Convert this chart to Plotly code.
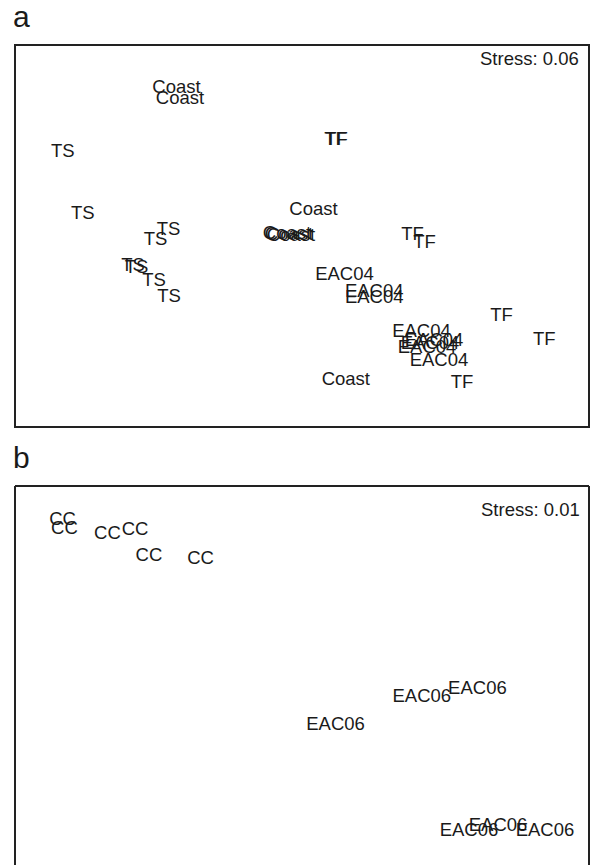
import plotly.graph_objects as go

# ---------------- data (NMDS scores; axes 0-100 units) ----------------
# Panel a
ts_a_x = [8.33, 11.81, 26.74, 24.48, 20.56, 21.17, 24.22, 26.83]
ts_a_y = [71.94, 55.63, 51.57, 48.82, 42.15, 41.62, 38.22, 34.03]
tf_a_x = [55.84, 56.00, 69.25, 71.34, 84.76, 92.20, 77.87]
tf_a_y = [75.13, 75.00, 50.13, 48.17, 28.98, 22.57, 11.52]
coast_a_x = [28.14, 28.75, 52.00, 47.39, 47.74, 48.08, 57.63]
coast_a_y = [88.74, 85.73, 56.81, 50.52, 50.26, 50.00, 12.09]
eac04_x = [57.40, 62.58, 62.58, 70.82, 73.00, 72.30, 71.78, 73.87]
eac04_y = [39.66, 35.16, 33.56, 24.74, 22.38, 21.73, 20.68, 17.15]
stress_a = "Stress: 0.06"

# Panel b
cc_x = [8.28, 8.62, 16.11, 20.91, 23.34, 32.32]
cc_y = [91.10, 88.74, 87.30, 88.48, 81.68, 80.89]
eac06_x = [70.87, 80.56, 55.84, 79.09, 84.15, 92.33]
eac06_y = [44.76, 46.86, 37.43, 9.69, 10.99, 9.69]
stress_b = "Stress: 0.01"

panel_labels = ["a", "b"]

# ---------------- layout constants ----------------
W, H = 591, 865
FONT = "Liberation Sans, Arial, sans-serif"
TXT = "#1a1a1a"
FS = 18.5

box_l, box_r = 15, 589
a_top, a_bot = 45, 427
b_top = 486
b_bot_true = 868  # bottom edge lies just below the visible window
unit_y = (a_bot - a_top) / 100.0

def px(v):
    return v / W

def py(v):
    return 1 - v / H

fig = go.Figure()

def add_labels(xs, ys, label, xa, ya):
    fig.add_trace(go.Scatter(
        x=xs, y=ys, mode="text", text=[label] * len(xs),
        textposition="middle center",
        textfont=dict(family=FONT, size=FS, color=TXT),
        xaxis=xa, yaxis=ya, hoverinfo="skip", showlegend=False,
        cliponaxis=False,
    ))

add_labels(ts_a_x, ts_a_y, "TS", "x", "y")
add_labels(tf_a_x, tf_a_y, "TF", "x", "y")
add_labels(coast_a_x, coast_a_y, "Coast", "x", "y")
add_labels(eac04_x, eac04_y, "EAC04", "x", "y")
add_labels(cc_x, cc_y, "CC", "x2", "y2")
add_labels(eac06_x, eac06_y, "EAC06", "x2", "y2")

b_range_low = (b_bot_true - H) / unit_y

ax_common = dict(visible=False, fixedrange=True)
fig.update_layout(
    width=W, height=H,
    margin=dict(l=0, r=0, t=0, b=0),
    paper_bgcolor="white", plot_bgcolor="white",
    xaxis=dict(domain=[px(box_l), px(box_r)], range=[0, 100], **ax_common),
    yaxis=dict(domain=[py(a_bot), py(a_top)], range=[0, 100], **ax_common),
    xaxis2=dict(domain=[px(box_l), px(box_r)], range=[0, 100], anchor="y2", **ax_common),
    yaxis2=dict(domain=[0, py(b_top)], range=[b_range_low, 100], anchor="x2", **ax_common),
    showlegend=False,
)

line = dict(color="#222222", width=2)
shapes = [
    # panel a full frame
    dict(type="rect", xref="paper", yref="paper",
         x0=px(box_l), x1=px(box_r), y0=py(a_bot), y1=py(a_top), line=line),
    # panel b frame (bottom edge falls outside the window)
    dict(type="line", xref="paper", yref="paper",
         x0=px(box_l), x1=px(box_r), y0=py(b_top), y1=py(b_top), line=line),
    dict(type="line", xref="paper", yref="paper",
         x0=px(box_l), x1=px(box_l), y0=py(b_top), y1=-0.02, line=line),
    dict(type="line", xref="paper", yref="paper",
         x0=px(box_r), x1=px(box_r), y0=py(b_top), y1=-0.02, line=line),
]
fig.update_layout(shapes=shapes)

annotations = [
    dict(text=stress_a, x=98.6, y=96.34, xref="x", yref="y",
         xanchor="right", yanchor="middle", showarrow=False,
         font=dict(family=FONT, size=FS, color=TXT)),
    dict(text=stress_b, x=98.8, y=93.72, xref="x2", yref="y2",
         xanchor="right", yanchor="middle", showarrow=False,
         font=dict(family=FONT, size=FS, color=TXT)),
    dict(text=panel_labels[0], x=px(11), y=py(16.6), xref="paper", yref="paper",
         xanchor="left", yanchor="middle", showarrow=False,
         font=dict(family=FONT, size=30, color=TXT)),
    dict(text=panel_labels[1], x=px(11), y=py(457.6), xref="paper", yref="paper",
         xanchor="left", yanchor="middle", showarrow=False,
         font=dict(family=FONT, size=30, color=TXT)),
]
fig.update_layout(annotations=annotations)

fig.write_html("out.html", config={"displayModeBar": False})
